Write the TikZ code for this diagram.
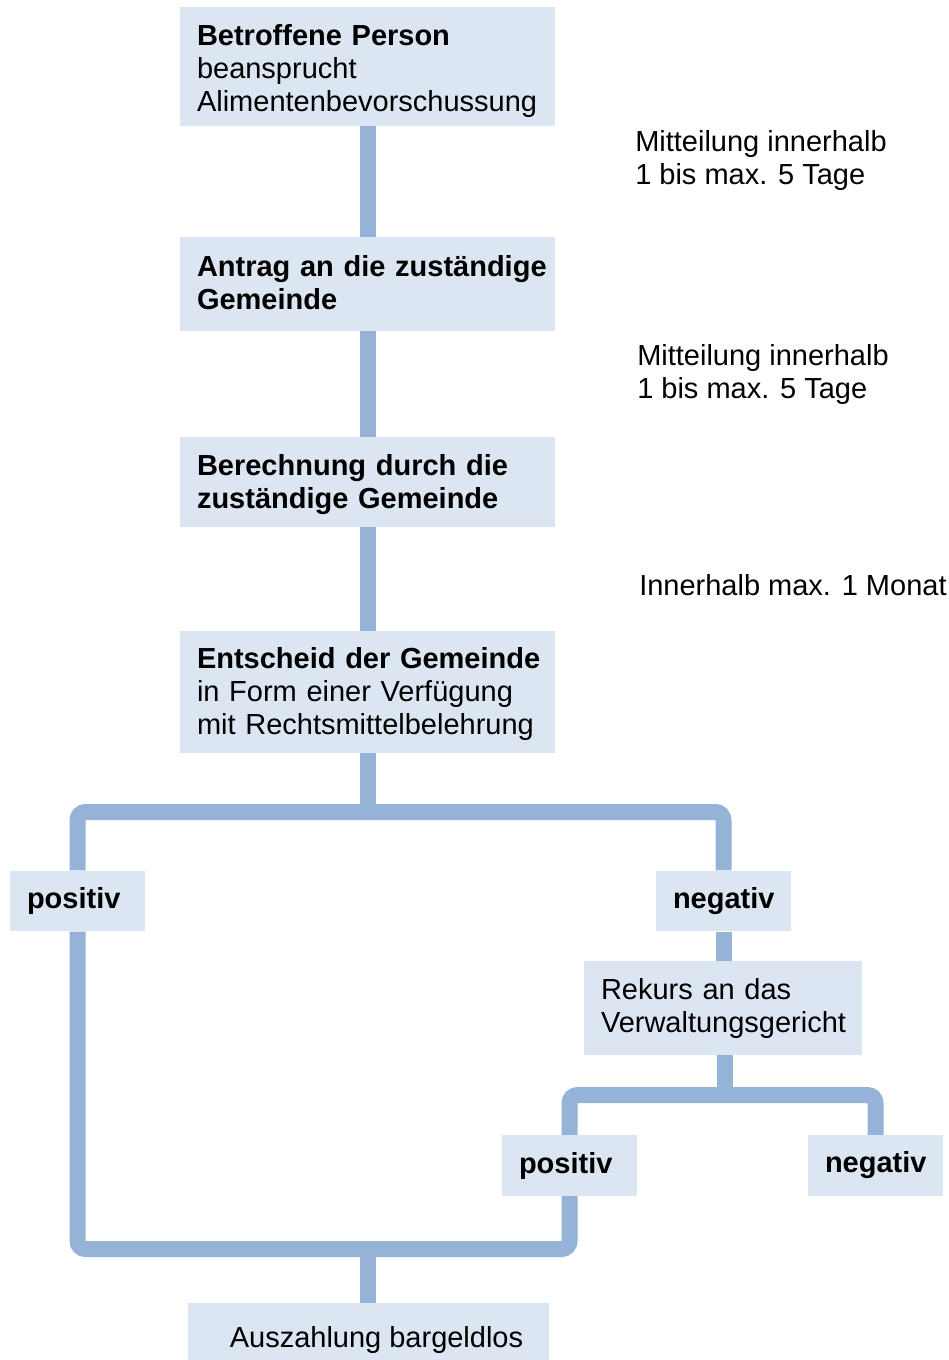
\documentclass[tikz,border=0pt]{standalone}
\usepackage{fontspec}
\setmainfont{Liberation Sans}
\definecolor{boxfill}{HTML}{DCE6F2}
\definecolor{linecol}{HTML}{95B3D7}
\newcommand{\lowerby}[2]{\raisebox{-#1}[\height][\depth]{#2}}
\begin{document}
\begin{tikzpicture}[x=0.75pt,y=-0.75pt,
  box/.style={fill=boxfill, inner xsep=12.75pt, inner ysep=0pt, align=left,
    font=\fontsize{21.75}{24.75}\selectfont},
  bigbox/.style={box, text width=255.75pt, minimum width=281.25pt},
  smallbox/.style={box, text width=75.75pt, minimum width=101.25pt, minimum height=45.5pt, font=\fontsize{21.75}{24.75}\selectfont\bfseries},
  note/.style={anchor=west, inner sep=0pt, align=left, font=\fontsize{21.75}{24.75}\selectfont},
  conn/.style={draw=linecol, line width=12pt, rounded corners=6pt}]
\useasboundingbox (0,0) rectangle (949,1360);

% boxes
\node[bigbox, minimum height=89.25pt] (b1) at (367.5,66.5) {\lowerby{3.25pt}{\parbox{255.75pt}{\textbf{Betroffene Person}\\beansprucht\\Alimentenbevorschussung}}};
\node[bigbox, minimum height=70.5pt] (b2) at (367.5,284) {\lowerby{-1.1pt}{\parbox{255.75pt}{\mbox{\textbf{Antrag an die zuständige}}\\\textbf{Gemeinde}}}};
\node[bigbox, minimum height=67.5pt] (b3) at (367.5,482) {\lowerby{2pt}{\parbox{255.75pt}{\mbox{\textbf{Berechnung durch die}}\\\mbox{\textbf{zuständige Gemeinde}}}}};
\node[bigbox, minimum height=91.5pt] (b4) at (367.5,692) {\lowerby{1.25pt}{\parbox{255.75pt}{\mbox{\textbf{Entscheid der Gemeinde}}\\in Form einer Verfügung\\\mbox{mit Rechtsmittelbelehrung}}}};
\node[smallbox] (pos1) at (77.5,901) {positiv};
\node[smallbox] (neg1) at (723.5,901) {negativ};
\node[box, text width=183pt, minimum width=208.5pt, minimum height=70.5pt] (rek) at (723,1008) {Rekurs an das\\Verwaltungsgericht};
\node[smallbox] (pos2) at (569.5,1165.5) {positiv};
\node[smallbox] (neg2) at (875.5,1165.5) {negativ};
\node[box, align=center, minimum width=270.75pt, minimum height=42.75pt] (ausz) at (368.5,1331.5) {\lowerby{6pt}{\hspace*{12pt}Auszahlung bargeldlos}};

% notes
\node[note] (n1) at (635,160.5) {Mitteilung innerhalb\\1 bis max. 5 Tage};
\node[note] (n2) at (637,374.5) {Mitteilung innerhalb\\1 bis max. 5 Tage};
\node[note] (n3) at (639,585) {Innerhalb max. 1 Monat};

% junction coordinates
\coordinate (j1) at (367.5,812);
\coordinate (j2) at (725,1095);
\coordinate (j3) at (368,1249);

% connectors
\draw[conn] (b1) -- (b2);
\draw[conn] (b2) -- (b3);
\draw[conn] (b3) -- (b4);
\draw[conn] (b4.south) -- (j1);
\draw[conn] (pos1.north) |- (j1) -| (neg1.north);
\draw[conn] (neg1.south) -- (neg1.south |- rek.north);
\draw[conn] (rek.south -| j2) -- (j2);
\draw[conn] (pos2.north) |- (j2) -| (neg2.north);
\draw[conn] (pos1.south) |- (j3) -| (pos2.south);
\draw[conn] (j3) -- (j3 |- ausz.north);
\end{tikzpicture}
\end{document}
